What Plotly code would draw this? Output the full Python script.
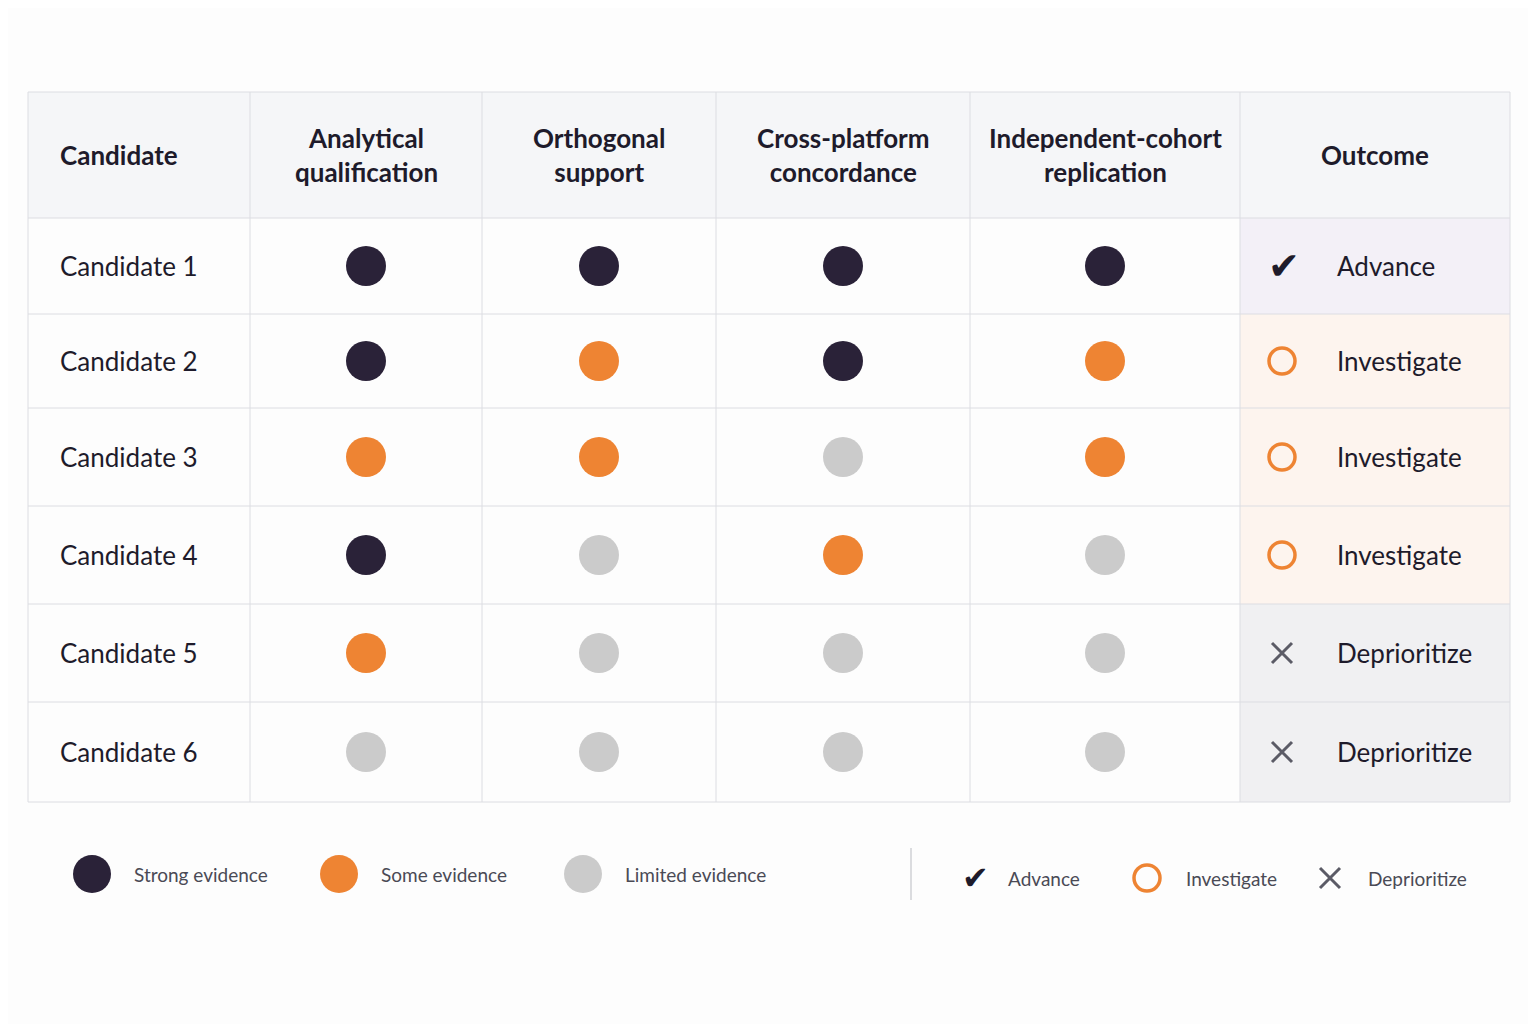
import plotly.graph_objects as go

# Data
candidates = ["Candidate 1", "Candidate 2", "Candidate 3", "Candidate 4", "Candidate 5", "Candidate 6"]
criteria = ["Analytical<br>qualification", "Orthogonal<br>support", "Cross-platform<br>concordance",
            "Independent-cohort<br>replication"]
# 2 = strong, 1 = some, 0 = limited
evidence = [
    [2, 2, 2, 2],
    [2, 1, 2, 1],
    [1, 1, 0, 1],
    [2, 0, 1, 0],
    [1, 0, 0, 0],
    [0, 0, 0, 0],
]
outcomes = ["Advance", "Investigate", "Investigate", "Investigate", "Deprioritize", "Deprioritize"]

# Styles
DARK, ORANGE, GREY = "#2a2238", "#ee8433", "#cbcbcb"
lvl_color = {2: DARK, 1: ORANGE, 0: GREY}
lvl_name = {2: "Strong evidence", 1: "Some evidence", 0: "Limited evidence"}
out_bg = {"Advance": "#f3f0f7", "Investigate": "#fdf4ee", "Deprioritize": "#f0f0f2"}
FONT = "Lato"

col_edges = [28, 250, 482, 716, 970, 1240, 1510]
row_edges = [92, 218, 314, 408, 506, 604, 702, 802]
col_mid = [(a + b) / 2 for a, b in zip(col_edges[:-1], col_edges[1:])]
row_mid = [(a + b) / 2 for a, b in zip(row_edges[:-1], row_edges[1:])]

fig = go.Figure()
shapes = []
# header background
shapes.append(dict(type="rect", x0=col_edges[0], x1=col_edges[-1], y0=row_edges[0], y1=row_edges[1],
                   fillcolor="#f5f6f8", line_width=0, layer="below"))
for i, o in enumerate(outcomes):
    shapes.append(dict(type="rect", x0=col_edges[5], x1=col_edges[6], y0=row_edges[i + 1], y1=row_edges[i + 2],
                       fillcolor=out_bg[o], line_width=0, layer="below"))
for x in col_edges:
    shapes.append(dict(type="line", x0=x, x1=x, y0=row_edges[0], y1=row_edges[-1], line=dict(color="#dcdde2", width=1)))
for y in row_edges:
    shapes.append(dict(type="line", x0=col_edges[0], x1=col_edges[-1], y0=y, y1=y, line=dict(color="#dcdde2", width=1)))
# legend separator
shapes.append(dict(type="line", x0=911, x1=911, y0=848, y1=900, line=dict(color="#cfd0d4", width=1.5)))

ann = []
hdr = dict(size=26, color="#1e1b2b", family=FONT)
ann.append(dict(x=58, y=row_mid[0], text="<b>Candidate</b>", xanchor="left", showarrow=False, font=hdr))
for j, c in enumerate(criteria):
    ann.append(dict(x=col_mid[j + 1], y=row_mid[0], text=f"<b>{c}</b>", showarrow=False, font=hdr))
ann.append(dict(x=col_mid[5], y=row_mid[0], text="<b>Outcome</b>", showarrow=False, font=hdr))
for i, c in enumerate(candidates):
    ann.append(dict(x=58, y=row_mid[i + 1], text=c, xanchor="left", showarrow=False,
                    font=dict(size=26, color="#1e1b2b", family=FONT)))
    ann.append(dict(x=1335, y=row_mid[i + 1], text=outcomes[i], xanchor="left", showarrow=False,
                    font=dict(size=26, color="#1e1b2b", family=FONT)))

# evidence dots
for lvl in [2, 1, 0]:
    xs, ys = [], []
    for i, row in enumerate(evidence):
        for j, v in enumerate(row):
            if v == lvl:
                xs.append(col_mid[j + 1]); ys.append(row_mid[i + 1])
    fig.add_trace(go.Scatter(x=xs, y=ys, mode="markers", marker=dict(size=40, color=lvl_color[lvl], line_width=0),
                             name=lvl_name[lvl], hoverinfo="skip"))

# outcome icons
icon_x = 1282
for i, o in enumerate(outcomes):
    y = row_mid[i + 1]
    if o == "Advance":
        ann.append(dict(x=icon_x + 2, y=y, text="✔", showarrow=False, font=dict(size=38, color="#1e1b2b", family="DejaVu Sans")))
    elif o == "Investigate":
        fig.add_trace(go.Scatter(x=[icon_x], y=[y], mode="markers", showlegend=False, hoverinfo="skip",
                                 marker=dict(symbol="circle-open", size=26, color=ORANGE, line=dict(width=3.5, color=ORANGE))))
    else:
        fig.add_trace(go.Scatter(x=[icon_x], y=[y], mode="markers", showlegend=False, hoverinfo="skip",
                                 marker=dict(symbol="x-thin", size=20, line=dict(width=3, color="#5b5b66"))))

# bottom legend
leg_y = 874
for k, lvl in enumerate([2, 1, 0]):
    x = [92, 339, 583][k]
    fig.add_trace(go.Scatter(x=[x], y=[leg_y], mode="markers", showlegend=False, hoverinfo="skip",
                             marker=dict(size=38, color=lvl_color[lvl])))
    ann.append(dict(x=x + 40, y=leg_y, text=lvl_name[lvl], xanchor="left", showarrow=False,
                    font=dict(size=19, color="#4a4a55", family=FONT)))
leg2_y = 878
ann.append(dict(x=975, y=leg2_y, text="✔", showarrow=False, font=dict(size=32, color="#1e1b2b", family="DejaVu Sans")))
ann.append(dict(x=1006, y=leg2_y, text="Advance", xanchor="left", showarrow=False, font=dict(size=19, color="#4a4a55", family=FONT)))
fig.add_trace(go.Scatter(x=[1147], y=[leg2_y], mode="markers", showlegend=False, hoverinfo="skip",
                         marker=dict(symbol="circle-open", size=26, color=ORANGE, line=dict(width=3.5, color=ORANGE))))
ann.append(dict(x=1184, y=leg2_y, text="Investigate", xanchor="left", showarrow=False, font=dict(size=19, color="#4a4a55", family=FONT)))
fig.add_trace(go.Scatter(x=[1330], y=[leg2_y], mode="markers", showlegend=False, hoverinfo="skip",
                         marker=dict(symbol="x-thin", size=20, line=dict(width=3, color="#5b5b66"))))
ann.append(dict(x=1366, y=leg2_y, text="Deprioritize", xanchor="left", showarrow=False, font=dict(size=19, color="#4a4a55", family=FONT)))

# page body margin offsets the figure by 8px; shift axis ranges to compensate
fig.update_layout(
    width=1536, height=1024, margin=dict(l=0, r=0, t=0, b=0),
    paper_bgcolor="#fdfdfd", plot_bgcolor="#fdfdfd", showlegend=False,
    shapes=shapes, annotations=ann,
    xaxis=dict(range=[8, 1544], visible=False, fixedrange=True),
    yaxis=dict(range=[1032, 8], visible=False, fixedrange=True),
)
fig.write_html("out.html")
